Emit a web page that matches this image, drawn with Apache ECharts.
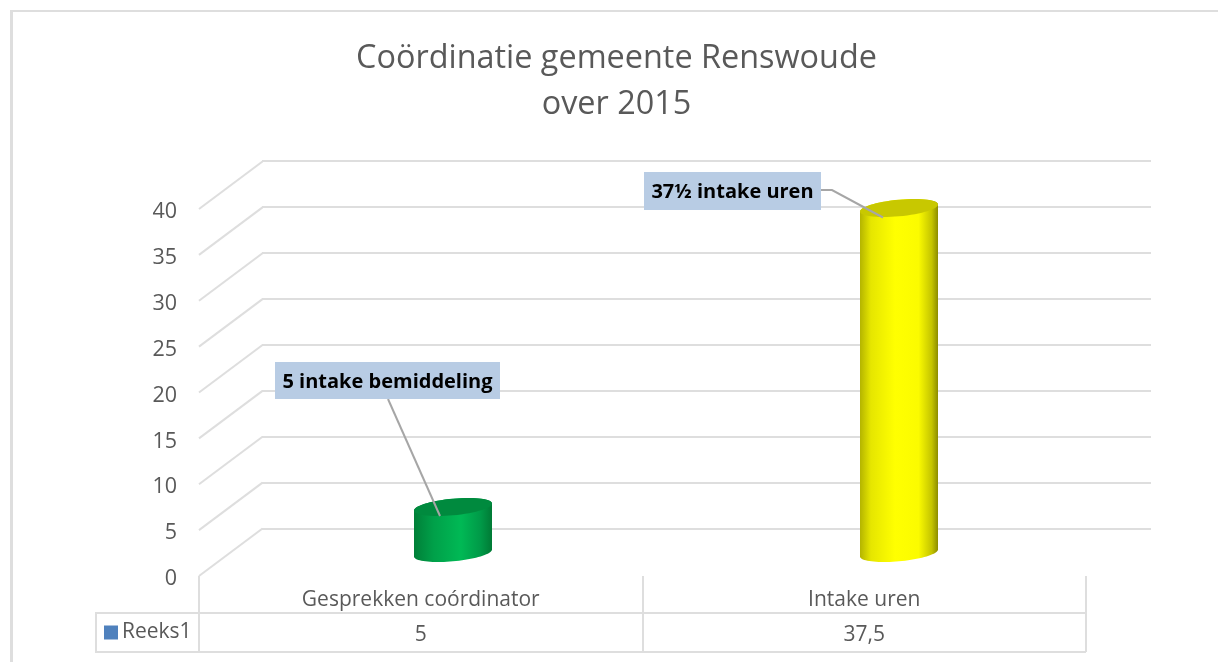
<!DOCTYPE html>
<html><head><meta charset="utf-8">
<style>html,body{margin:0;padding:0;background:#fff}#c{width:1218px;height:662px}</style>
<script src="https://cdn.jsdelivr.net/npm/echarts@6/dist/echarts.min.js"></script>
</head><body><div id="c"></div>
<script>
const titleLines = ['Coördinatie gemeente Renswoude', 'over 2015'];
const categories = ['Gesprekken coórdinator', 'Intake uren'];
const seriesName = 'Reeks1';
const values = [5, 37.5];
const tableLabels = ['5', '37,5'];
const calloutTexts = ['5 intake bemiddeling', '37½ intake uren'];
const yTicks = [0, 5, 10, 15, 20, 25, 30, 35, 40];

const FONT = '"Open Sans", "Noto Sans", sans-serif';
const TEXT = '#595959', LINE = '#dedede';
const DEPTH = [63.5, -47.5];
const BAR_HALF = 39, TILT = 3.5, MINOR = 8.3;
const barStyles = [
  {top:'#008a3e', stops:[[0,'#007f38'],[0.25,'#00a049'],[0.6,'#00b955'],[0.85,'#009a48'],[1,'#007a35']]},
  {top:'#c8c800', stops:[[0,'#b4b400'],[0.14,'#e6e600'],[0.45,'#ffff00'],[0.75,'#fbfb00'],[0.92,'#c4c400'],[1,'#8c8c00']]}
];
// callout: label box offset from top centre of the bar, then leader points
const callouts = [
  {box:[-178,-145,225,37], leader:[[-65,-108],[-13,9]]},
  {box:[-255,-36,177,38], leader:[[-78,-18],[-67,-18],[-16,9.5]]}
];

function ellipse(c, from, to, n) {
  const pts = [];
  for (let i = 0; i <= n; i++) {
    const t = from + (to - from) * i / n;
    pts.push([c[0] + BAR_HALF * Math.cos(t), c[1] + MINOR * Math.sin(t) - TILT * Math.cos(t)]);
  }
  return pts;
}
function renderBar(params, api) {
  const i = api.value(0), v = api.value(1);
  const b = api.coord([i, 0]), t = api.coord([i, v]);
  const st = barStyles[i];
  const body = ellipse(b, Math.PI, 0, 40).concat(ellipse(t, 0, -Math.PI, 40));
  return {type:'group', children:[
    {type:'polygon', shape:{points:body}, style:{fill:{type:'linear',x:0,y:0,x2:1,y2:0,
      colorStops:st.stops.map(s=>({offset:s[0],color:s[1]}))}}},
    {type:'polygon', shape:{points:ellipse(t, 0, 2*Math.PI, 60)}, style:{fill:st.top}}
  ]};
}
function renderCallout(params, api) {
  const i = api.value(0), t = api.coord([i, api.value(1)]);
  const c = callouts[i], bx = c.box;
  return {type:'group', children:[
    {type:'polyline', shape:{points:c.leader.map(p=>[t[0]+p[0], t[1]+p[1]])},
      style:{stroke:'#a6a6a6', lineWidth:2, fill:null}},
    {type:'rect', shape:{x:t[0]+bx[0], y:t[1]+bx[1], width:bx[2], height:bx[3]}, style:{fill:'#b8cce4'}},
    {type:'text', x:t[0]+bx[0]+bx[2]/2, y:t[1]+bx[1]+bx[3]/2+1.5,
      style:{text:calloutTexts[i], fill:'#000', font:'bold 20px '+FONT, textAlign:'center', textVerticalAlign:'middle'}}
  ]};
}
function renderDepth(params, api) {
  const p = api.coord([0, api.value(0)]);
  const x = p[0] - api.size([1, 0])[0] / 2;
  return {type:'line', shape:{x1:x, y1:p[1], x2:x+DEPTH[0], y2:p[1]+DEPTH[1]},
    style:{stroke:LINE, lineWidth:2}};
}
const hLine = (x1,x2,y)=>({type:'line', shape:{x1,y1:y,x2,y2:y}, style:{stroke:LINE,lineWidth:2}, silent:true});
const vLine = (x,y1,y2,w)=>({type:'line', shape:{x1:x,y1,x2:x,y2}, style:{stroke:LINE,lineWidth:w||2}, silent:true});

const chart = echarts.init(document.getElementById('c'));
chart.setOption({
  animation:false,
  backgroundColor:'#fff',
  title:{text:titleLines.join('\n'), left:611.5, top:31, textAlign:'center',
    textStyle:{fontFamily:FONT,fontSize:32.4,fontWeight:'normal',color:TEXT,lineHeight:46}},
  legend:{data:[{name:seriesName,icon:'rect'}], left:104, top:622, itemWidth:14, itemHeight:14, itemGap:6,
    selectedMode:false, padding:0,
    textStyle:{fontFamily:FONT,fontSize:21,color:TEXT,padding:[1,0,0,-1]}},
  grid:[
    {left:262, width:889, top:161, height:368},   // back wall
    {left:199, width:887, top:209, height:367},   // front plane
    {left:230, width:892, top:185, height:368},   // plane of the bars
    {left:199, width:887, top:212, height:367}    // value labels
  ],
  xAxis:[
    {gridIndex:0,type:'category',data:categories,show:false},
    {gridIndex:1,type:'category',data:categories,position:'bottom',
      axisLine:{show:false},axisTick:{show:true,length:76,alignWithLabel:false,lineStyle:{color:LINE,width:2}},
      axisLabel:{margin:14,fontFamily:FONT,fontSize:21,color:TEXT}},
    {gridIndex:1,type:'category',data:tableLabels,position:'bottom',offset:0,
      axisLine:{show:false},axisTick:{show:false},
      axisLabel:{margin:49,fontFamily:FONT,fontSize:21,color:TEXT}},
    {gridIndex:2,type:'category',data:categories,show:false},
    {gridIndex:3,type:'category',data:categories,show:false}
  ],
  yAxis:[
    {gridIndex:0,type:'value',min:0,max:40,interval:5,axisLine:{show:false},axisTick:{show:false},axisLabel:{show:false},
      splitLine:{show:true,lineStyle:{color:LINE,width:2}}},
    {gridIndex:1,type:'value',min:0,max:40,interval:5,show:false},
    {gridIndex:1,type:'value',min:0,max:40,interval:5,show:false},
    {gridIndex:2,type:'value',min:0,max:40,interval:5,show:false},
    {gridIndex:3,type:'value',min:0,max:40,interval:5,axisLine:{show:false},axisTick:{show:false},splitLine:{show:false},
      axisLabel:{margin:22,fontFamily:FONT,fontSize:21.5,color:TEXT}}
  ],
  series:[
    {type:'custom',name:'diepte',coordinateSystem:'cartesian2d',xAxisIndex:1,yAxisIndex:1,z:1,silent:true,
      renderItem:renderDepth,data:yTicks.map(v=>[v]),encode:{y:0},legendHoverLink:false},
    {type:'custom',name:seriesName,coordinateSystem:'cartesian2d',xAxisIndex:3,yAxisIndex:3,z:3,silent:true,
      itemStyle:{color:'#4f81bd'},renderItem:renderBar,data:values.map((v,i)=>[i,v]),encode:{x:0,y:1}},
    {type:'custom',name:'labels',coordinateSystem:'cartesian2d',xAxisIndex:3,yAxisIndex:3,z:5,silent:true,
      renderItem:renderCallout,data:values.map((v,i)=>[i,v]),encode:{x:0,y:1}}
  ],
  graphic:[
    vLine(11.5,11,662,3), hLine(10,1218,11),
    hLine(96,1086,613), hLine(96,1086,652), vLine(96,612,653)
  ]
});
</script></body></html>
